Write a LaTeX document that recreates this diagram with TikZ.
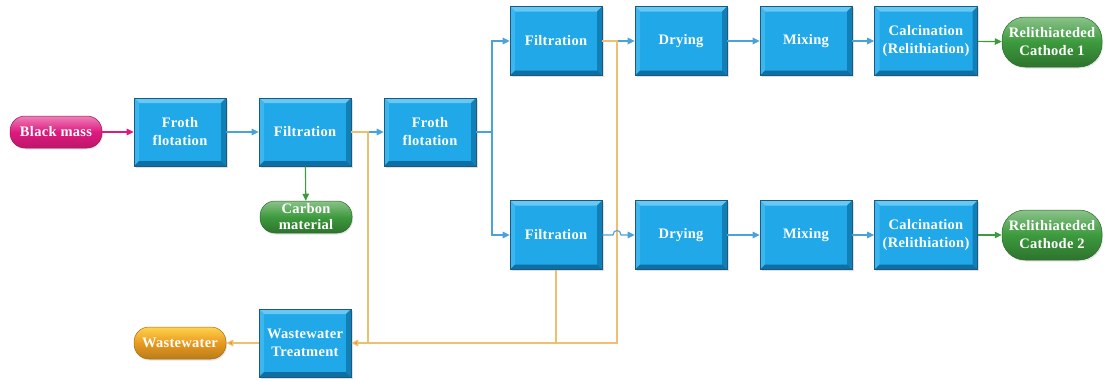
\documentclass[tikz,border=0pt]{standalone}
\usepackage{fontspec}
\setmainfont{Liberation Serif}[LetterSpace=2]
\usetikzlibrary{arrows.meta,shadows}
\definecolor{bxfill}{HTML}{20A8E8}
\definecolor{bxtop}{HTML}{66C8F3}
\definecolor{bxleft}{HTML}{3CB6EE}
\definecolor{bxright}{HTML}{1080B6}
\definecolor{bxbot}{HTML}{0E6FA4}
\definecolor{bxedge}{HTML}{1B5A80}
\definecolor{lnblue}{HTML}{4AA3D8}
\definecolor{lnorange}{HTML}{EDBF6E}
\definecolor{lngreen}{HTML}{3D9A3D}
\definecolor{lnmag}{HTML}{DE1A7E}
\definecolor{orarrow}{HTML}{E89A20}
\tikzset{
  bx/.style={draw=bxedge, line width=0.6pt, fill=bxfill, minimum width=92pt, minimum height=68pt,
    inner sep=2pt, align=center, text=white, font=\bfseries\fontsize{14.5}{18}\selectfont,
    drop shadow={opacity=0.25, shadow xshift=1.5pt, shadow yshift=-1.5pt},
    path picture={
      \coordinate (nw) at (path picture bounding box.north west);
      \coordinate (ne) at (path picture bounding box.north east);
      \coordinate (sw) at (path picture bounding box.south west);
      \coordinate (se) at (path picture bounding box.south east);
      \fill[bxtop] (nw) -- (ne) -- ([shift={(-5pt,-5pt)}]ne) -- ([shift={(5pt,-5pt)}]nw) -- cycle;
      \fill[bxleft] (nw) -- ([shift={(5pt,-5pt)}]nw) -- ([shift={(5pt,5pt)}]sw) -- (sw) -- cycle;
      \fill[bxright] (ne) -- ([shift={(-5pt,-5pt)}]ne) -- ([shift={(-5pt,5pt)}]se) -- (se) -- cycle;
      \fill[bxbot] (sw) -- ([shift={(5pt,5pt)}]sw) -- ([shift={(-5pt,5pt)}]se) -- (se) -- cycle;
    }},
  pill/.style={rounded corners=15pt, minimum width=92pt, minimum height=32pt, inner sep=1pt,
    align=center, text=white, font=\bfseries\fontsize{14.5}{16}\selectfont,
    drop shadow={opacity=0.2, shadow xshift=1pt, shadow yshift=-1.5pt}},
  magpill/.style={pill, draw=lnmag!70!black, line width=0.5pt, top color=lnmag!55!white, bottom color=lnmag!85!black, middle color=lnmag},
  greenpill/.style={pill, draw=lngreen!70!black, line width=0.5pt, top color=lngreen!60!white, bottom color=lngreen!75!black, middle color=lngreen},
  orangepill/.style={pill, draw=orarrow!70!black, line width=0.5pt, top color=orange!50!yellow!70!white, bottom color=orarrow!80!black, middle color=orarrow},
  bigpill/.style={rounded corners=23pt, minimum width=100pt, minimum height=50pt, font=\bfseries\fontsize{14.5}{18}\selectfont},
  tip/.style={-{Triangle[length=7pt,width=6.5pt]}},
  bl/.style={lnblue, line width=1.1pt},
  ol/.style={lnorange, line width=1.1pt},
  gl/.style={lngreen, line width=1.1pt},
  ml/.style={lnmag, line width=1.1pt},
}
\begin{document}
\begin{tikzpicture}[x=1pt,y=-1pt]
\useasboundingbox[fill=white] (0,0) rectangle (1107,380);
% nodes
\node[magpill] (bm) at (56,132) {Black mass};
\node[bx] (ff1) at (180,132) {Froth\\flotation};
\node[bx] (fi1) at (305,132) {Filtration};
\node[greenpill] (cm) at (306,217) {Carbon\\material};
\node[bx] (ff2) at (430,132) {Froth\\flotation};
\node[bx, minimum height=69pt] (fiT) at (556,41) {Filtration};
\node[bx, minimum height=69pt] (fiB) at (556,235) {Filtration};
\node[bx, minimum height=69pt] (drT) at (681,41) {Drying};
\node[bx, minimum height=69pt] (drB) at (681,235) {Drying};
\node[bx, minimum height=69pt] (mxT) at (806,41) {Mixing};
\node[bx, minimum height=69pt] (mxB) at (806,235) {Mixing};
\node[bx, minimum width=103pt, minimum height=69pt, inner sep=1pt] (caT) at (926,41) {Calcination\\(Relithiation)};
\node[bx, minimum width=103pt, minimum height=69pt, inner sep=1pt] (caB) at (926,235) {Calcination\\(Relithiation)};
\node[greenpill, bigpill] (c1) at (1052,42) {Relithiateded\\Cathode 1};
\node[greenpill, bigpill] (c2) at (1052,235) {Relithiateded\\Cathode 2};
\node[bx] (wt) at (305,343) {Wastewater\\Treatment};
\node[orangepill] (ww) at (180,343) {Wastewater};
% coordinates
\coordinate (sp) at (492,132);
\coordinate (o1a) at (368,132);
\coordinate (o1) at (368,343);
\coordinate (o2a) at (617,41);
\coordinate (o2) at (617,343);
\coordinate (o3) at (556,343);
\coordinate (h1) at (613,235);
\coordinate (h2) at (621,235);
% blue connectors
\draw[ml, tip] (bm) -- (ff1);
\draw[bl, tip] (ff1) -- (fi1);
\draw[bl, tip] (fi1) -- (ff2);
\draw[bl] (ff2.east) -- (sp);
\draw[bl, tip] (sp) |- (fiT.west);
\draw[bl, tip] (sp) |- (fiB.west);
\draw[bl, tip] (fiT) -- (drT);
\draw[bl, tip] (drT) -- (mxT);
\draw[bl, tip] (mxT) -- (caT);
\draw[bl, tip] (drB) -- (mxB);
\draw[bl, tip] (mxB) -- (caB);
\draw[gl, tip] (caT) -- (c1);
\draw[gl, tip] (caB) -- (c2);
\draw[gl, tip] (fi1) -- (cm);
% orange connectors
\draw[ol] (fi1.east) -- (o1a) -- (o1);
\draw[ol, -{Triangle[length=7pt,width=6.5pt,fill=orarrow]}] (fiT.east) -- (o2a) -- (o2) -- (wt.east);
\draw[ol] (fiB.south) -- (o3);
\draw[ol, -{Triangle[length=7pt,width=6.5pt,fill=orarrow]}] (wt) -- (ww);
% bottom filtration to drying with a hop
\draw[bl, tip] (fiB.east) -- (h1) .. controls (613,229) and (621,229) .. (h2) -- (drB.west);
\end{tikzpicture}
\end{document}
